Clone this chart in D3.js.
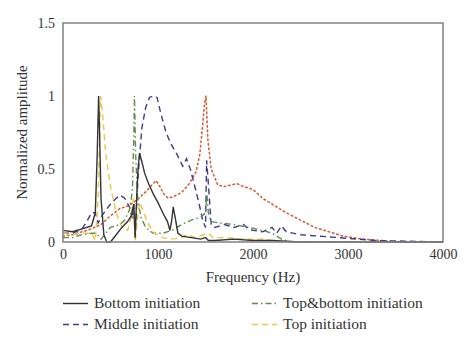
<!DOCTYPE html>
<html><head><meta charset="utf-8">
<script src="https://cdn.jsdelivr.net/npm/d3@7"></script>
<style>body{margin:0;background:#fff}</style>
</head><body><svg id="c" width="474" height="353"></svg>
<script>
const xTicks = [0, 1000, 2000, 3000, 4000];
const yTicks = [0, 0.5, 1, 1.5];
const yTickLabels = ["0", "0.5", "1", "1.5"];
const bottomFreq = [0,100,200,300,340,360,375,385,400,430,460,500,560,620,680,720,745,760,775,790,805,830,860,900,950,1000,1050,1100,1125,1145,1160,1180,1210,1250,1350,1450,1500,1530,1600,1800,2000,2200,2500,4000];
const bottomAmp  = [0.08,0.07,0.09,0.11,0.2,0.6,1.0,0.75,0.3,0.05,0.0,0.0,0.05,0.1,0.14,0.18,0.26,0.03,0.3,0.5,0.61,0.55,0.47,0.4,0.33,0.27,0.2,0.14,0.08,0.15,0.24,0.17,0.06,0.04,0.03,0.02,0.03,0.01,0.01,0.02,0.01,0.01,0.0,0.0];
const middleFreq = [0,100,200,250,300,340,370,420,500,560,600,650,700,730,745,760,790,830,870,910,950,990,1030,1080,1130,1200,1260,1300,1340,1380,1430,1470,1500,1512,1530,1560,1600,1700,1800,1900,1950,2000,2100,2200,2250,2300,2350,2500,2700,2900,3100,3300,4000];
const middleAmp  = [0.06,0.06,0.09,0.14,0.2,0.2,0.13,0.19,0.26,0.3,0.32,0.3,0.24,0.16,0.26,0.04,0.45,0.78,0.92,0.99,1.0,0.99,0.88,0.76,0.68,0.6,0.52,0.57,0.5,0.4,0.27,0.15,0.1,0.56,0.4,0.12,0.1,0.12,0.1,0.12,0.09,0.08,0.07,0.1,0.06,0.11,0.07,0.05,0.04,0.03,0.02,0.01,0.0];
const tbFreq = [0,100,200,300,350,400,450,500,600,650,700,730,745,752,765,785,820,870,950,1050,1150,1250,1350,1450,1500,1515,1530,1560,1650,1800,1950,2100,2200,2300,2400,4000];
const tbAmp  = [0.03,0.03,0.05,0.06,0.06,0.02,0.06,0.1,0.12,0.15,0.22,0.35,0.7,1.0,0.6,0.3,0.17,0.1,0.06,0.06,0.08,0.12,0.15,0.17,0.2,0.33,0.2,0.14,0.13,0.12,0.1,0.08,0.06,0.02,0.0,0.0];
const topFreq = [0,100,200,300,340,370,385,397,420,450,500,560,620,680,710,740,760,780,810,850,900,960,1050,1150,1250,1300,1400,1480,1530,1580,1700,1900,2100,2300,4000];
const topAmp  = [0.06,0.05,0.06,0.06,0.01,0.3,0.7,1.0,0.85,0.6,0.38,0.2,0.1,0.08,0.15,0.3,0.0,0.15,0.27,0.2,0.12,0.06,0.03,0.02,0.03,0.05,0.03,0.05,0.06,0.03,0.03,0.02,0.02,0.0,0.0];
const redFreq = [0,100,200,300,400,500,600,700,800,880,950,980,1020,1060,1105,1160,1250,1330,1400,1440,1470,1490,1505,1525,1560,1630,1700,1830,1900,2000,2100,2200,2350,2500,2650,2800,2950,3150,3350,3550,4000];
const redAmp  = [0.04,0.05,0.07,0.09,0.12,0.18,0.23,0.25,0.3,0.35,0.4,0.42,0.38,0.33,0.3,0.31,0.34,0.4,0.48,0.6,0.8,0.95,1.0,0.7,0.5,0.39,0.38,0.4,0.38,0.36,0.3,0.26,0.2,0.15,0.1,0.07,0.04,0.02,0.01,0.0,0.0];

const series = [
  {name:"Bottom initiation", f:bottomFreq, a:bottomAmp, color:"#333333", dash:null},
  {name:"Middle initiation", f:middleFreq, a:middleAmp, color:"#3c3c8e", dash:"6,4"},
  {name:"Top&bottom initiation", f:tbFreq, a:tbAmp, color:"#5f8f4a", dash:"6,3,1.5,3"},
  {name:"Top initiation", f:topFreq, a:topAmp, color:"#e9c64c", dash:"6,4"},
  {name:null, f:redFreq, a:redAmp, color:"#d2603e", dash:"1.5,3"}
];

const svg = d3.select("#c");
const font = "'Liberation Serif', 'Times New Roman', serif";
const m = {l:63, r:443, t:23, b:242};
const x = d3.scaleLinear().domain([0,4000]).range([m.l, m.r]);
const y = d3.scaleLinear().domain([0,1.5]).range([m.b, m.t]);

const line = d3.line().x(d=>x(d[0])).y(d=>y(d[1]));
const order = [4,1,2,3,0];
order.forEach(i => {
  const s = series[i];
  svg.append("path")
    .attr("d", line(s.f.map((v,j)=>[v, s.a[j]])))
    .attr("fill","none").attr("stroke", s.color)
    .attr("stroke-width", i===4 ? 1.6 : 1.4)
    .attr("stroke-linecap", i===4 ? "round" : "butt")
    .attr("stroke-dasharray", s.dash);
});

svg.append("rect").attr("x", m.l).attr("y", m.t).attr("width", m.r-m.l).attr("height", m.b-m.t)
  .attr("fill","none").attr("stroke","#888").attr("stroke-width",1.6);

const xAxis = svg.append("g").attr("transform",`translate(0,${m.b})`)
  .call(d3.axisBottom(x).tickValues(xTicks).tickSize(0).tickPadding(7).tickFormat(d3.format("d")));
xAxis.select(".domain").remove();
xAxis.selectAll("text").attr("font-family",font).attr("font-size",14).attr("fill","#333");

const yAxis = svg.append("g").attr("transform",`translate(${m.l},0)`)
  .call(d3.axisLeft(y).tickValues(yTicks).tickSize(0).tickPadding(8).tickFormat((d,i)=>yTickLabels[i]));
yAxis.select(".domain").remove();
yAxis.selectAll("text").attr("font-family",font).attr("font-size",14).attr("fill","#333");

svg.append("text").attr("x",(m.l+m.r)/2).attr("y",282).attr("text-anchor","middle")
  .attr("font-family",font).attr("font-size",15).attr("fill","#333").text("Frequency (Hz)");
svg.append("text").attr("transform",`translate(27,${(m.t+m.b)/2}) rotate(-90)`).attr("text-anchor","middle")
  .attr("font-family",font).attr("font-size",15).attr("fill","#333").text("Normalized amplitude");

const legPos = [[63,308],[63,329],[252,308],[252,329]];
[0,1,2,3].forEach(i => {
  const s = series[i]; const [lx,ly] = legPos[i];
  svg.append("line").attr("x1",lx).attr("x2",lx+25).attr("y1",ly-4.5).attr("y2",ly-4.5)
    .attr("stroke",s.color).attr("stroke-width",1.4).attr("stroke-dasharray", s.dash);
  svg.append("text").attr("x",lx+31).attr("y",ly).attr("font-family",font).attr("font-size",15.5)
    .attr("fill","#333").text(s.name);
});
</script></body></html>
